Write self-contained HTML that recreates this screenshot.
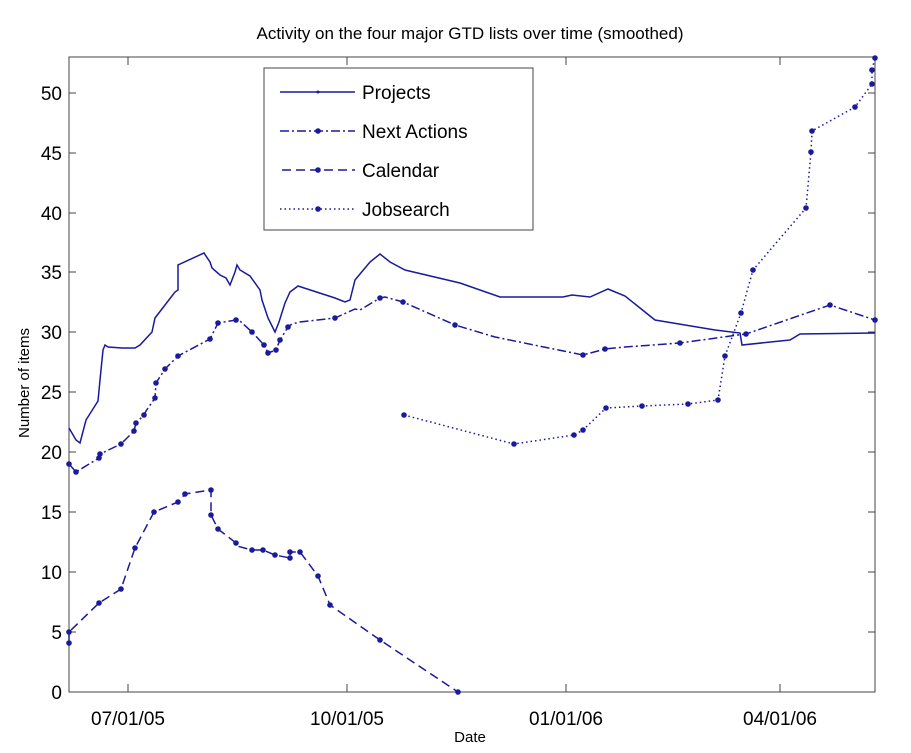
<!DOCTYPE html>
<html><head><style>body{margin:0;background:#fff}svg{display:block}text{font-family:"Liberation Sans",Arial,sans-serif;fill:#000}</style></head><body>
<svg width="911" height="753" viewBox="0 0 911 753" xmlns="http://www.w3.org/2000/svg">
<text x="470" y="39" font-size="17" text-anchor="middle">Activity on the four major GTD lists over time (smoothed)</text>
<rect x="69" y="57" width="806" height="635" fill="none" stroke="#444" stroke-width="1"/>
<g stroke="#444" stroke-width="1">
<line x1="69" y1="632" x2="76" y2="632"/><line x1="868" y1="632" x2="875" y2="632"/>
<line x1="69" y1="572" x2="76" y2="572"/><line x1="868" y1="572" x2="875" y2="572"/>
<line x1="69" y1="512" x2="76" y2="512"/><line x1="868" y1="512" x2="875" y2="512"/>
<line x1="69" y1="452" x2="76" y2="452"/><line x1="868" y1="452" x2="875" y2="452"/>
<line x1="69" y1="392" x2="76" y2="392"/><line x1="868" y1="392" x2="875" y2="392"/>
<line x1="69" y1="332" x2="76" y2="332"/><line x1="868" y1="332" x2="875" y2="332"/>
<line x1="69" y1="272" x2="76" y2="272"/><line x1="868" y1="272" x2="875" y2="272"/>
<line x1="69" y1="213" x2="76" y2="213"/><line x1="868" y1="213" x2="875" y2="213"/>
<line x1="69" y1="153" x2="76" y2="153"/><line x1="868" y1="153" x2="875" y2="153"/>
<line x1="69" y1="93" x2="76" y2="93"/><line x1="868" y1="93" x2="875" y2="93"/>
<line x1="128" y1="692" x2="128" y2="684"/><line x1="128" y1="57" x2="128" y2="65"/>
<line x1="347" y1="692" x2="347" y2="684"/><line x1="347" y1="57" x2="347" y2="65"/>
<line x1="566" y1="692" x2="566" y2="684"/><line x1="566" y1="57" x2="566" y2="65"/>
<line x1="780" y1="692" x2="780" y2="684"/><line x1="780" y1="57" x2="780" y2="65"/>
</g>
<g font-size="19" text-anchor="end">
<text x="62" y="699">0</text><text x="62" y="639">5</text><text x="62" y="579">10</text><text x="62" y="519">15</text><text x="62" y="459">20</text><text x="62" y="399">25</text><text x="62" y="339">30</text><text x="62" y="279">35</text><text x="62" y="220">40</text><text x="62" y="160">45</text><text x="62" y="100">50</text>
</g>
<g font-size="19" text-anchor="middle">
<text x="128" y="725">07/01/05</text><text x="347" y="725">10/01/05</text><text x="566" y="725">01/01/06</text><text x="780" y="725">04/01/06</text>
</g>
<text x="470" y="742" font-size="15" text-anchor="middle">Date</text>
<text transform="translate(29,383) rotate(-90)" font-size="15" text-anchor="middle">Number of items</text>
<g fill="none" stroke="#1a1a9a" stroke-width="1.5">
<polyline points="69,428 76,440 80,443 86,420 98,401 100,380 103,350 105,345 108,347 122,348 135,348 140,345 152,332 155,318 165,305 175,292 178,290 178,265 204,253 210,262 212,268 220,275 226,278 230,285 235,272 237,265 240,270 250,276 260,290 262,300 268,318 275,332 279,322 285,303 290,292 298,286 335,298 345,302 350,300 355,280 370,262 380,254 390,262 405,270 460,283 500,297 563,297 572,295 590,297 608,289 625,296 655,320 667,322 715,330 740,333 742,345 790,340 800,334 875,333"/>
<polyline stroke-dasharray="9,3,2,3" points="69,464 76,472 99,458 100,454 121,444 134,431 136,423 144,415 146,411 155,398 156,383 165,369 168,366 178,356 210,339 218,323 236,320 240,321 252,332 264,345 268,353 276,350 280,340 288,327 292,324 300,322 335,318 355,309 360,310 380,298 385,297 403,302 455,325 495,337 583,355 605,349 625,347 680,343 738,335 746,334 830,305 875,320"/>
<polyline stroke-dasharray="9,5" points="69,643 69,632 99,603 121,589 135,548 154,512 178,502 185,494 211,490 211,515 218,529 236,543 237,546 252,550 263,550 275,555 290,558 290,552 300,552 318,576 330,605 380,640 458,692"/>
<polyline stroke-dasharray="1.5,3" points="404,415 514,444 574,435 583,430 606,408 642,406 688,404 718,400 725,356 741,313 753,270 806,208 811,152 812,131 855,107 872,84 872,70 875,58"/>
</g>
<g fill="#1a1a9a">
<circle cx="69" cy="464" r="2.8"/><circle cx="76" cy="472" r="2.8"/><circle cx="99" cy="458" r="2.8"/><circle cx="100" cy="454" r="2.8"/><circle cx="121" cy="444" r="2.8"/><circle cx="134" cy="431" r="2.8"/><circle cx="136" cy="423" r="2.8"/><circle cx="144" cy="415" r="2.8"/><circle cx="155" cy="398" r="2.8"/><circle cx="156" cy="383" r="2.8"/><circle cx="165" cy="369" r="2.8"/><circle cx="178" cy="356" r="2.8"/><circle cx="210" cy="339" r="2.8"/><circle cx="218" cy="323" r="2.8"/><circle cx="236" cy="320" r="2.8"/><circle cx="252" cy="332" r="2.8"/><circle cx="264" cy="345" r="2.8"/><circle cx="268" cy="353" r="2.8"/><circle cx="276" cy="350" r="2.8"/><circle cx="280" cy="340" r="2.8"/><circle cx="288" cy="327" r="2.8"/><circle cx="335" cy="318" r="2.8"/><circle cx="380" cy="298" r="2.8"/><circle cx="403" cy="302" r="2.8"/><circle cx="455" cy="325" r="2.8"/><circle cx="583" cy="355" r="2.8"/><circle cx="605" cy="349" r="2.8"/><circle cx="680" cy="343" r="2.8"/><circle cx="746" cy="334" r="2.8"/><circle cx="830" cy="305" r="2.8"/><circle cx="875" cy="320" r="2.8"/>
<circle cx="69" cy="643" r="2.8"/><circle cx="69" cy="632" r="2.8"/><circle cx="99" cy="603" r="2.8"/><circle cx="121" cy="589" r="2.8"/><circle cx="135" cy="548" r="2.8"/><circle cx="154" cy="512" r="2.8"/><circle cx="178" cy="502" r="2.8"/><circle cx="185" cy="494" r="2.8"/><circle cx="211" cy="490" r="2.8"/><circle cx="211" cy="515" r="2.8"/><circle cx="218" cy="529" r="2.8"/><circle cx="236" cy="543" r="2.8"/><circle cx="252" cy="550" r="2.8"/><circle cx="263" cy="550" r="2.8"/><circle cx="275" cy="555" r="2.8"/><circle cx="290" cy="558" r="2.8"/><circle cx="290" cy="552" r="2.8"/><circle cx="300" cy="552" r="2.8"/><circle cx="318" cy="576" r="2.8"/><circle cx="330" cy="605" r="2.8"/><circle cx="380" cy="640" r="2.8"/><circle cx="458" cy="692" r="2.8"/>
<circle cx="404" cy="415" r="2.8"/><circle cx="514" cy="444" r="2.8"/><circle cx="574" cy="435" r="2.8"/><circle cx="583" cy="430" r="2.8"/><circle cx="606" cy="408" r="2.8"/><circle cx="642" cy="406" r="2.8"/><circle cx="688" cy="404" r="2.8"/><circle cx="718" cy="400" r="2.8"/><circle cx="725" cy="356" r="2.8"/><circle cx="741" cy="313" r="2.8"/><circle cx="753" cy="270" r="2.8"/><circle cx="806" cy="208" r="2.8"/><circle cx="811" cy="152" r="2.8"/><circle cx="812" cy="131" r="2.8"/><circle cx="855" cy="107" r="2.8"/><circle cx="872" cy="84" r="2.8"/><circle cx="872" cy="70" r="2.8"/><circle cx="875" cy="58" r="2.8"/>
</g>
<rect x="264" y="68" width="269" height="162" fill="#fff" stroke="#444" stroke-width="1"/>
<g fill="none" stroke="#1a1a9a" stroke-width="1.5">
<line x1="280" y1="92" x2="355" y2="92"/>
<line x1="280" y1="131" x2="355" y2="131" stroke-dasharray="9,3,2,3"/>
<line x1="282" y1="170" x2="355" y2="170" stroke-dasharray="9,5"/>
<line x1="280" y1="209" x2="355" y2="209" stroke-dasharray="1.5,3"/>
</g>
<g fill="#1a1a9a"><circle cx="318" cy="92" r="1.5"/><circle cx="318" cy="131" r="2.8"/><circle cx="318" cy="170" r="2.8"/><circle cx="318" cy="209" r="2.8"/></g>
<g font-size="19">
<text x="362" y="99">Projects</text><text x="362" y="138">Next Actions</text><text x="362" y="177">Calendar</text><text x="362" y="216">Jobsearch</text>
</g>
</svg>
</body></html>
